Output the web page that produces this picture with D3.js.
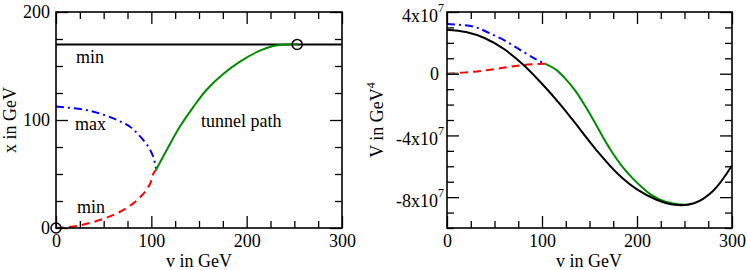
<!DOCTYPE html>
<html>
<head>
<meta charset="utf-8">
<script src="https://cdn.jsdelivr.net/npm/d3@7"></script>
<style>
  body { margin: 0; background: #fff; }
  svg { display: block; }
</style>
</head>
<body>
<div id="chart"></div>
<script>
// ---- data ----

// left panel: x(v) in GeV
const minTopV = [0, 300]
const minTopX = [170, 170]

const maxV = [0, 30, 46, 64, 78, 88, 97, 102, 105]
const maxX = [112.5, 109.5, 106, 100, 93.5, 85, 75, 66, 55]

const minLowV = [0, 22, 46, 64, 81, 92, 99, 102, 105]
const minLowX = [0, 1.9, 7.4, 13.6, 22.8, 32, 41.4, 50, 54]

const tunnelV = [105, 116, 130, 144, 158, 176, 193, 211, 228, 246, 253]
const tunnelX = [54, 72, 94, 112, 128, 143, 154, 163, 168.5, 170, 170]

const markerV = [0, 253]
const markerX = [0, 170]

// right panel: V(v) in units of 1e7 GeV^4
const potV = [0, 20, 40, 60, 80, 100, 120, 140, 160, 180, 200, 220, 240, 260, 280, 300]
const potE = [2.85, 2.7, 2.3, 1.6, 0.6, -0.65, -2.05, -3.6, -5.15, -6.5, -7.5, -8.15, -8.5, -8.4, -7.6, -5.95]

const potMaxV = [0, 28, 45, 63, 80, 94, 103]
const potMaxE = [3.22, 3.05, 2.62, 2.07, 1.43, 0.93, 0.65]

const potMinV = [0, 28, 56, 80, 103]
const potMinE = [0, 0.13, 0.35, 0.56, 0.65]

const potTunnelV = [103, 115, 125, 135, 145, 155, 165, 175, 185, 195, 205, 215, 230, 250]
const potTunnelE = [0.65, 0.25, -0.35, -1.1, -2.05, -3.1, -4.2, -5.2, -6.05, -6.75, -7.35, -7.85, -8.3, -8.5]

const startV = [0, 12]
const startE = [0, 0.02]

// axes
const vMajor = [0, 100, 200, 300]
const vMinor = [25, 50, 75, 125, 150, 175, 225, 250, 275]
const xMajor = [0, 100, 200]
const xMinor = [25, 50, 75, 125, 150, 175]
const eMajor = [-8, -4, 0, 4]
const eMinor = [-10, -9, -7, -6, -5, -3, -2, -1, 1, 2, 3]
const eLabels = ['-8x10', '-4x10', '0', '4x10']
const eExp = ['7', '7', '', '7']

const annotations = [
  {text: 'min', v: 21, x: 153},
  {text: 'max', v: 20, x: 91},
  {text: 'min', v: 22, x: 14},
  {text: 'tunnel path', v: 152, x: 93.5}
]

// ---- drawing ----
const W = 747, H = 270
const plotTop = 12, plotBottom = 228
const plotH = plotBottom - plotTop
const fontSize = 18
const serif = '"Liberation Serif"'

const svg = d3.select('#chart').append('svg')
  .attr('width', W)
  .attr('height', H)

const zip = (a, b) => a.map((d, i) => [d, b[i]])

const drawFrame = (g, x, y, xMaj, xMin, yMaj, yMin, yFormat) => {
  const w = x.range()[1] - x.range()[0]
  const h = y.range()[0] - y.range()[1]

  const addAxis = (gen, tr) => {
    const a = g.append('g').attr('transform', tr).call(gen)
    a.select('.domain').remove()
    a.selectAll('line').attr('stroke', '#000').attr('stroke-width', 1.3)
    a.selectAll('text')
      .style('font-family', serif)
      .style('font-size', fontSize + 'px')
      .attr('fill', '#000')
    return a
  }

  addAxis(d3.axisBottom(x).tickValues(xMaj).tickSizeInner(-12).tickSizeOuter(0).tickPadding(6), `translate(0,${h})`)
  addAxis(d3.axisBottom(x).tickValues(xMin).tickSize(-7).tickFormat(''), `translate(0,${h})`)
  addAxis(d3.axisTop(x).tickValues(xMaj).tickSize(-12).tickFormat(''), 'translate(0,0)')
  addAxis(d3.axisTop(x).tickValues(xMin).tickSize(-7).tickFormat(''), 'translate(0,0)')

  const yl = addAxis(d3.axisLeft(y).tickValues(yMaj).tickSizeInner(-12).tickSizeOuter(0)
    .tickPadding(6).tickFormat(yFormat || d3.format('d')), 'translate(0,0)')
  addAxis(d3.axisLeft(y).tickValues(yMin).tickSize(-7).tickFormat(''), 'translate(0,0)')
  addAxis(d3.axisRight(y).tickValues(yMaj).tickSize(-12).tickFormat(''), `translate(${w},0)`)
  addAxis(d3.axisRight(y).tickValues(yMin).tickSize(-7).tickFormat(''), `translate(${w},0)`)

  g.append('rect')
    .attr('width', w)
    .attr('height', h)
    .attr('fill', 'none')
    .attr('stroke', '#000')
    .attr('stroke-width', 1.6)
  return yl
}

const drawLine = (g, pts, x, y, color, dash) => {
  g.append('path')
    .datum(pts)
    .attr('fill', 'none')
    .attr('stroke', color)
    .attr('stroke-width', 2)
    .attr('stroke-dasharray', dash || null)
    .attr('d', d3.line().x(d => x(d[0])).y(d => y(d[1])).curve(d3.curveCatmullRom.alpha(0.5)))
}

const label = (g, txt) => g.append('text')
  .style('font-family', serif)
  .style('font-size', fontSize + 'px')
  .attr('fill', '#000')
  .text(txt)

// left panel
const xL = d3.scaleLinear().domain([0, 300]).range([0, 286])
const yL = d3.scaleLinear().domain([0, 200]).range([plotH, 0])
const gL = svg.append('g').attr('transform', `translate(56,${plotTop})`)

drawLine(gL, zip(minTopV, minTopX), xL, yL, '#000')
drawLine(gL, zip(minLowV, minLowX), xL, yL, '#ff0000', '8,5')
drawLine(gL, zip(maxV, maxX), xL, yL, '#0000ff', '8,4,2,4')
drawLine(gL, zip(tunnelV, tunnelX), xL, yL, '#008b00')

gL.selectAll('.marker')
  .data(zip(markerV, markerX))
  .enter()
  .append('circle')
    .attr('cx', d => xL(d[0]))
    .attr('cy', d => yL(d[1]))
    .attr('r', 5)
    .attr('fill', 'none')
    .attr('stroke', '#000')
    .attr('stroke-width', 1.5)

drawFrame(gL, xL, yL, vMajor, vMinor, xMajor, xMinor)

annotations.forEach(d => {
  label(gL, d.text)
    .attr('x', xL(d.v))
    .attr('y', yL(d.x))
})

label(gL, 'v in GeV')
  .attr('x', 143)
  .attr('y', 255)
  .attr('text-anchor', 'middle')

label(gL, 'x in GeV')
  .attr('transform', `translate(-40,${plotH / 2}) rotate(-90)`)
  .attr('text-anchor', 'middle')

// right panel
const xR = d3.scaleLinear().domain([0, 300]).range([0, 285])
const yR = d3.scaleLinear().domain([-10, 4]).range([plotH, 0])
const gR = svg.append('g').attr('transform', `translate(447,${plotTop})`)

drawLine(gR, zip(potMinV, potMinE), xR, yR, '#ff0000', '8,5')
drawLine(gR, zip(startV, startE), xR, yR, '#777')
drawLine(gR, zip(potMaxV, potMaxE), xR, yR, '#0000ff', '8,4,2,4')
drawLine(gR, zip(potTunnelV, potTunnelE), xR, yR, '#008b00')
drawLine(gR, zip(potV, potE), xR, yR, '#000')

const ylR = drawFrame(gR, xR, yR, vMajor, vMinor, eMajor, eMinor, () => '')

// y tick labels with exponents, one text each
ylR.selectAll('.tick').each(function (d) {
  const t = d3.select(this)
  const k = eMajor.indexOf(d)
  const hasExp = eExp[k] !== ''
  const txt = label(t, '')
    .attr('x', hasExp ? -3 : -8)
    .attr('y', hasExp ? 9 : 6)
    .attr('text-anchor', 'end')
  txt.append('tspan').text(eLabels[k])
  if (hasExp) {
    txt.append('tspan')
      .attr('dy', -10)
      .style('font-size', '12px')
      .text(eExp[k])
  }
})

label(gR, 'v in GeV')
  .attr('x', 142)
  .attr('y', 255)
  .attr('text-anchor', 'middle')

const yLab = label(gR, '')
  .attr('transform', `translate(-64,${plotH / 2}) rotate(-90)`)
  .attr('text-anchor', 'middle')
yLab.append('tspan').text('V in GeV')
yLab.append('tspan').attr('dy', -8).style('font-size', '12px').text('4')
</script>
</body>
</html>
